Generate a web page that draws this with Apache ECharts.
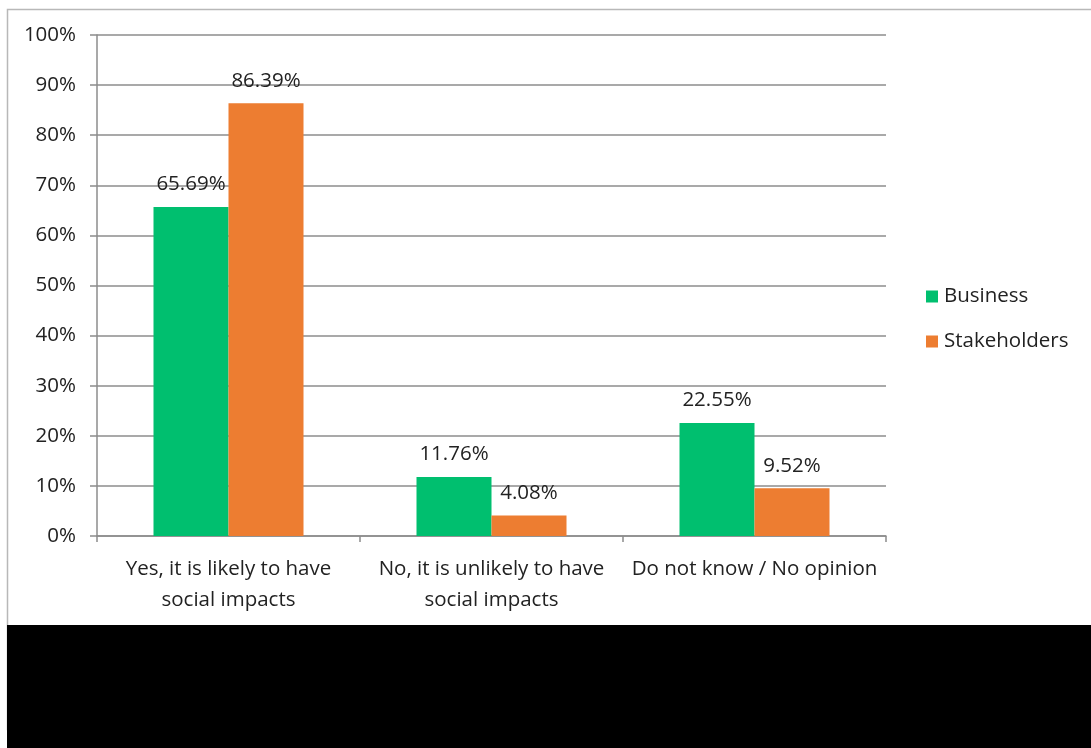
<!DOCTYPE html>
<html>
<head>
<meta charset="utf-8">
<script src="https://cdn.jsdelivr.net/npm/echarts@6/dist/echarts.min.js"></script>
<style>
html,body{margin:0;padding:0;background:#fff;}
#chart{width:1091px;height:748px;}
</style>
</head>
<body>
<div id="chart"></div>
<script>
const categories = ['Yes, it is likely to have\nsocial impacts', 'No, it is unlikely to have\nsocial impacts', 'Do not know / No opinion'];
const business = [65.69, 11.76, 22.55];
const stakeholders = [86.39, 4.08, 9.52];
const seriesNames = ['Business', 'Stakeholders'];

const FONT = '"Open Sans", "Liberation Sans", sans-serif';
const FS = 20.5;
const chart = echarts.init(document.getElementById('chart'));
const labelStyle = {
  show: true, position: 'top', distance: 12,
  fontFamily: FONT, fontSize: FS, color: '#222',
  formatter: p => p.value.toFixed(2) + '%'
};
chart.setOption({
  animation: false,
  backgroundColor: '#fff',
  graphic: [
    {type: 'rect', shape: {x: 7.5, y: 9.5, width: 1100, height: 720}, style: {fill: 'none', stroke: '#b8b8b8', lineWidth: 1.5}, z: -10},
    {type: 'rect', shape: {x: 7, y: 625, width: 1090, height: 130}, style: {fill: '#000'}, z: 100}
  ],
  grid: {left: 97, right: 205, top: 35, bottom: 212},
  legend: {
    orient: 'vertical', left: 921, top: 281, itemGap: 24,
    itemWidth: 12, itemHeight: 12, icon: 'rect', itemStyle: {borderWidth: 0},
    textStyle: {fontFamily: FONT, fontSize: FS, color: '#222', padding: [0, 0, 0, 1]},
    data: seriesNames
  },
  xAxis: {
    type: 'category', data: categories,
    axisLine: {lineStyle: {color: '#8c8c8c', width: 1.5}},
    axisTick: {show: true, length: 6, lineStyle: {color: '#8c8c8c', width: 1.5}},
    axisLabel: {fontFamily: FONT, fontSize: FS, color: '#222', margin: 18, lineHeight: 31, interval: 0}
  },
  yAxis: {
    type: 'value', min: 0, max: 100, interval: 10,
    axisLine: {show: true, lineStyle: {color: '#8c8c8c', width: 1.5}},
    axisTick: {show: true, length: 7, lineStyle: {color: '#8c8c8c', width: 1.5}},
    axisLabel: {fontFamily: FONT, fontSize: FS, color: '#222', margin: 21, formatter: '{value}%'},
    splitLine: {lineStyle: {color: '#8c8c8c', width: 1.5}}
  },
  series: [
    {name: seriesNames[0], type: 'bar', data: business, barWidth: 75, barGap: '0%',
     itemStyle: {color: '#00BF6F'}, label: labelStyle},
    {name: seriesNames[1], type: 'bar', data: stakeholders, barWidth: 75, barGap: '0%',
     itemStyle: {color: '#ED7D31'}, label: labelStyle}
  ]
});
</script>
</body>
</html>
